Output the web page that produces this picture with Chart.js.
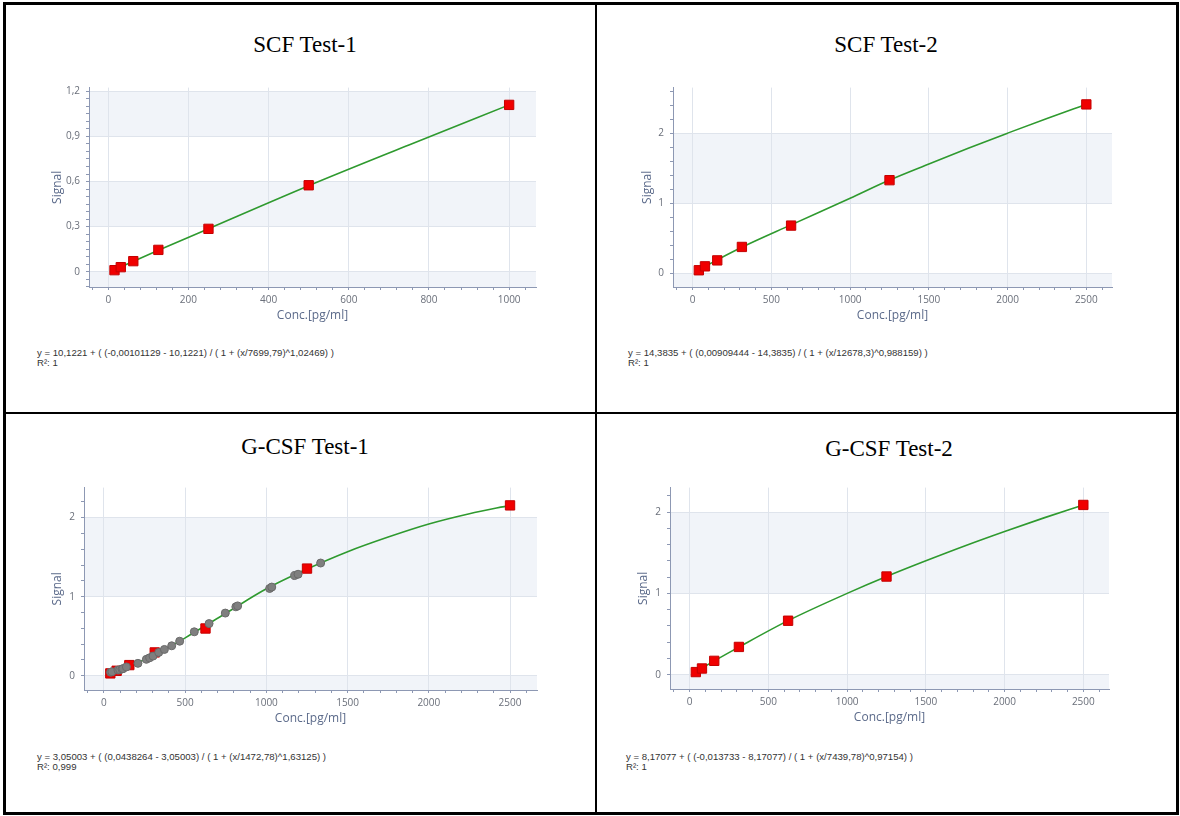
<!DOCTYPE html>
<html>
<head>
<meta charset="utf-8">
<script src="https://cdn.jsdelivr.net/npm/chart.js@4"></script>
<style>
  body { margin: 0; background: #fff; width: 1180px; height: 816px; position: relative; overflow: hidden; }
  .frame { position: absolute; left: 3px; top: 2px; width: 1176px; height: 813px; border: 3px solid #000; box-sizing: border-box; }
  .vline { position: absolute; left: 595px; top: 2px; width: 2px; height: 813px; background: #000; }
  .hline { position: absolute; left: 3px; top: 412px; width: 1176px; height: 2px; background: #000; }
  .title { position: absolute; width: 300px; text-align: center; font-family: "Liberation Serif", serif; font-size: 23px; line-height: 26px; color: #000; }
  .eq { position: absolute; font-family: "Liberation Sans", Arial, sans-serif; font-size: 9.6px; line-height: 10px; color: #333; white-space: pre; }
  .panel { position: absolute; }
</style>
</head>
<body>
<div class="frame"></div>
<div class="vline"></div>
<div class="hline"></div>

<div id="t1" class="title" style="left:155px; top:32px;">SCF Test-1</div>
<div id="t2" class="title" style="left:736px; top:32px;">SCF Test-2</div>
<div id="t3" class="title" style="left:155px; top:434px;">G-CSF Test-1</div>
<div id="t4" class="title" style="left:739px; top:436px;">G-CSF Test-2</div>

<div id="e1" class="eq" style="left:37px; top:348px;"></div>
<div id="e2" class="eq" style="left:628px; top:348px;"></div>
<div id="e3" class="eq" style="left:37px; top:752px;"></div>
<div id="e4" class="eq" style="left:626px; top:752px;"></div>

<div class="panel" style="left:40px; top:80px; width:510px; height:250px;"><canvas id="c1"></canvas></div>
<div class="panel" style="left:630px; top:80px; width:500px; height:250px;"><canvas id="c2"></canvas></div>
<div class="panel" style="left:40px; top:480px; width:510px; height:253px;"><canvas id="c3"></canvas></div>
<div class="panel" style="left:626px; top:480px; width:500px; height:252px;"><canvas id="c4"></canvas></div>

<script>
// ---- data ----
// SCF Test-1 standards
const scf1Conc = [15.6, 31.25, 62.5, 125, 250, 500, 1000];
const scf1Signal = [0.01, 0.03, 0.07, 0.145, 0.285, 0.575, 1.11];
const scf1FitConc = [15.6, 125, 250, 500, 750, 1000];
const scf1FitSignal = [0.014, 0.142, 0.286, 0.572, 0.843, 1.11];

// SCF Test-2 standards
const scf2Conc = [39, 78, 156, 312.5, 625, 1250, 2500];
const scf2Signal = [0.042, 0.098, 0.183, 0.375, 0.68, 1.328, 2.41];
const scf2FitConc = [39, 156, 312.5, 625, 1000, 1250, 1500, 1750, 2000, 2250, 2500];
const scf2FitSignal = [0.045, 0.19, 0.37, 0.69, 1.07, 1.33, 1.56, 1.785, 2.0, 2.21, 2.41];

// G-CSF Test-1 standards + samples
const gcsf1Conc = [39, 78, 156, 312.5, 625, 1250, 2500];
const gcsf1Signal = [0.03, 0.063, 0.135, 0.295, 0.598, 1.356, 2.155];
const gcsf1FitConc = [39, 156, 312.5, 500, 750, 1000, 1250, 1500, 1750, 2000, 2250, 2500];
const gcsf1FitSignal = [0.035, 0.12, 0.265, 0.48, 0.79, 1.1, 1.35, 1.57, 1.755, 1.92, 2.05, 2.155];
const gcsf1SampleConc = [41, 49, 86, 97, 111, 117, 138, 209, 261, 281, 302, 337, 372, 417, 466, 556, 647, 747, 812, 823, 1020, 1033, 1174, 1195, 1334];
const gcsf1SampleSignal = [0.045, 0.05, 0.072, 0.076, 0.086, 0.09, 0.112, 0.157, 0.208, 0.227, 0.249, 0.295, 0.333, 0.379, 0.437, 0.556, 0.66, 0.793, 0.872, 0.884, 1.104, 1.122, 1.268, 1.284, 1.426];

// G-CSF Test-2 standards
const gcsf2Conc = [39, 78, 156, 312.5, 625, 1250, 2500];
const gcsf2Signal = [0.033, 0.077, 0.171, 0.342, 0.664, 1.207, 2.087];
const gcsf2FitConc = [39, 156, 312.5, 625, 1000, 1250, 1500, 1750, 2000, 2250, 2500];
const gcsf2FitSignal = [0.035, 0.17, 0.34, 0.665, 1.0, 1.207, 1.40, 1.585, 1.76, 1.928, 2.087];

// fit equations shown under each plot
const equations = [
    'y = 10,1221 + ( (-0,00101129 - 10,1221) / ( 1 + (x/7699,79)^1,02469) )\nR\u00b2: 1',
    'y = 14,3835 + ( (0,00909444 - 14,3835) / ( 1 + (x/12678,3)^0,988159) )\nR\u00b2: 1',
    'y = 3,05003 + ( (0,0438264 - 3,05003) / ( 1 + (x/1472,78)^1,63125) )\nR\u00b2: 0,999',
    'y = 8,17077 + ( (-0,013733 - 8,17077) / ( 1 + (x/7439,78)^0,97154) )\nR\u00b2: 1'
];
equations.forEach((t, i) => { document.getElementById('e' + (i + 1)).textContent = t; });

// ---- styling ----
const AXIS_COLOR = '#8d98b3';
const GRID_COLOR = '#dfe4ec';
const BAND_COLOR = '#f1f4f9';
const TICK_TEXT = '#6a6f7a';
const TITLE_TEXT = '#5b6a8a';
const FONT = '"Open Sans", "Noto Sans", sans-serif';

const zip = (xs, ys) => xs.map((x, i) => ({ x: x, y: ys[i] }));
const isMajor = (v, step) => Math.abs(v / step - Math.round(v / step)) < 1e-6;
const fmt = (v) => String(Math.round(v * 1000) / 1000).replace('.', ',');

// alternating shaded bands between major y gridlines
const bandPlugin = {
    id: 'bands',
    beforeDraw(chart, args, opts) {
        const { ctx, chartArea } = chart;
        const ys = chart.scales.y;
        const step = opts.step;
        ctx.save();
        ctx.fillStyle = BAND_COLOR;
        for (let k = Math.floor(ys.min / step); k <= Math.floor(ys.max / step); k++) {
            if (Math.abs(k) % 2 !== 1) continue;
            const lo = Math.max(k * step, ys.min);
            const hi = Math.min((k + 1) * step, ys.max);
            const top = ys.getPixelForValue(hi);
            const bot = ys.getPixelForValue(lo);
            ctx.fillRect(chartArea.left, top, chartArea.right - chartArea.left, bot - top);
        }
        ctx.restore();
    }
};

function axis(cfg) {
    return {
        type: 'linear',
        min: cfg.min,
        max: cfg.max,
        border: { display: true, color: AXIS_COLOR, width: 1 },
        grid: {
            color: (c) => (c.tick && isMajor(c.tick.value, cfg.major) ? GRID_COLOR : 'rgba(0,0,0,0)'),
            tickColor: AXIS_COLOR,
            tickLength: 3,
            drawTicks: true
        },
        ticks: {
            stepSize: cfg.minor,
            maxTicksLimit: 500,
            autoSkip: false,
            includeBounds: false,
            maxRotation: 0,
            padding: cfg.pad,
            color: TICK_TEXT,
            font: { family: FONT, size: 10 },
            callback: (v) => (isMajor(v, cfg.major) ? fmt(v) : '')
        },
        title: {
            display: true,
            text: cfg.title,
            color: TITLE_TEXT,
            font: { family: FONT, size: 12 },
            padding: cfg.titlePad
        },
        afterFit: cfg.fit
    };
}

function makeChart(id, p) {
    const datasets = [
        {
            label: 'fit',
            data: zip(p.fitX, p.fitY),
            showLine: true,
            borderColor: '#2f9a2f',
            borderWidth: 1.6,
            pointRadius: 0,
            cubicInterpolationMode: 'monotone',
            order: 3
        },
        {
            label: 'standards',
            data: zip(p.stdX, p.stdY),
            pointStyle: 'rect',
            pointRadius: 6.6,
            backgroundColor: '#f00000',
            borderColor: '#c40000',
            borderWidth: 1,
            order: 2
        }
    ];
    if (p.sampleX) {
        datasets.push({
            label: 'samples',
            data: zip(p.sampleX, p.sampleY),
            pointStyle: 'circle',
            pointRadius: 4,
            backgroundColor: '#7f7f7f',
            borderColor: '#6a6a6a',
            borderWidth: 1,
            order: 1
        });
    }

    return new Chart(document.getElementById(id), {
        type: 'scatter',
        data: { datasets: datasets },
        plugins: [bandPlugin],
        options: {
            responsive: true,
            maintainAspectRatio: false,
            animation: false,
            layout: { padding: { top: p.padTop, right: p.padRight, left: 0, bottom: 0 } },
            plugins: {
                legend: { display: false },
                tooltip: { enabled: false },
                bands: { step: p.yMajor }
            },
            scales: {
                x: axis({
                    min: p.xMin, max: p.xMax, major: p.xMajor, minor: p.xMinor,
                    title: 'Conc.[pg/ml]', pad: 4,
                    titlePad: { top: 0, bottom: 7 },
                    fit: (s) => { s.height = 43; s.paddingLeft = 0; s.paddingRight = 0; }
                }),
                y: axis({
                    min: p.yMin, max: p.yMax, major: p.yMajor, minor: p.yMinor,
                    title: 'Signal', pad: 6,
                    titlePad: { top: 10, bottom: 0 },
                    fit: (s) => { s.width = p.yWidth; s.paddingTop = 0; s.paddingBottom = 0; }
                })
            }
        }
    });
}

makeChart('c1', {
    stdX: scf1Conc, stdY: scf1Signal, fitX: scf1FitConc, fitY: scf1FitSignal,
    xMin: -48, xMax: 1067, xMajor: 200, xMinor: 40,
    yMin: -0.102, yMax: 1.225, yMajor: 0.3, yMinor: 0.05,
    yWidth: 49, padTop: 7, padRight: 14
});

makeChart('c2', {
    stdX: scf2Conc, stdY: scf2Signal, fitX: scf2FitConc, fitY: scf2FitSignal,
    xMin: -125, xMax: 2663, xMajor: 500, xMinor: 100,
    yMin: -0.197, yMax: 2.65, yMajor: 1, yMinor: 0.2,
    yWidth: 43, padTop: 5, padRight: 18
});

makeChart('c3', {
    stdX: gcsf1Conc, stdY: gcsf1Signal, fitX: gcsf1FitConc, fitY: gcsf1FitSignal,
    sampleX: gcsf1SampleConc, sampleY: gcsf1SampleSignal,
    xMin: -123, xMax: 2666, xMajor: 500, xMinor: 100,
    yMin: -0.18, yMax: 2.38, yMajor: 1, yMinor: 0.2,
    yWidth: 44, padTop: 7, padRight: 13
});

makeChart('c4', {
    stdX: gcsf2Conc, stdY: gcsf2Signal, fitX: gcsf2FitConc, fitY: gcsf2FitSignal,
    xMin: -125, xMax: 2663, xMajor: 500, xMinor: 100,
    yMin: -0.175, yMax: 2.30, yMajor: 1, yMinor: 0.2,
    yWidth: 44, padTop: 7, padRight: 17
});
</script>
</body>
</html>
